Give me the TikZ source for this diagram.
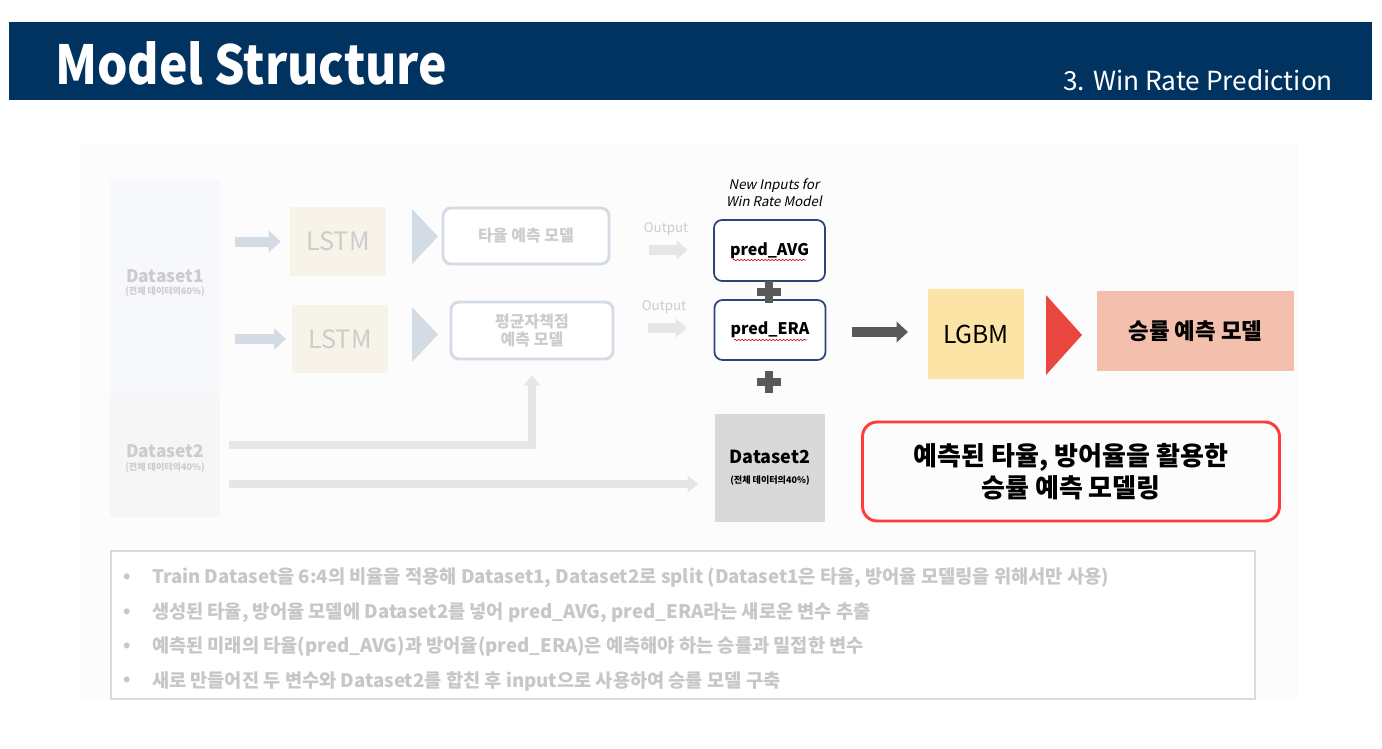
\documentclass[tikz,border=0pt]{standalone}
\usepackage{graphicx}
\usepackage{fontspec}
\setmainfont{Noto Sans CJK KR}
\newfontfamily\slfont{Noto Sans CJK KR}[FakeSlant=0.2]
\usetikzlibrary{arrows.meta,decorations.pathmorphing}
\definecolor{headnavy}{HTML}{003360}
\definecolor{fadetext}{HTML}{CCCCCC}
\definecolor{fadeblue}{HTML}{D3DBE5}
\definecolor{fadegray}{HTML}{E6E6E6}
\definecolor{lstmfill}{HTML}{F7F3E8}
\definecolor{d1fill}{HTML}{F7F8FC}
\definecolor{d2fill}{HTML}{F6F6F6}
\definecolor{boxnavy}{HTML}{2A4674}
\definecolor{plusgray}{HTML}{595959}
\definecolor{lgbmfill}{HTML}{FCE4A6}
\definecolor{winfill}{HTML}{F4C0AE}
\definecolor{redtri}{HTML}{E8463E}
\definecolor{redline}{HTML}{FF3B3B}
\newcommand\fsz[2]{\fontsize{#1}{#2}\selectfont}
\begin{document}
\begin{tikzpicture}[x=0.75pt,y=-0.75pt,
  every node/.style={inner sep=0pt,outer sep=0pt,align=center},
  sz/.style 2 args={minimum width=#1*0.75pt,minimum height=#2*0.75pt},
  fadebox/.style={draw=fadeblue,line width=2.2pt,rounded corners=6pt,fill=white,text=fadetext},
  newbox/.style={draw=boxnavy,line width=1.3pt,rounded corners=6pt,fill=white},
  lightarrow/.style={draw=fadeblue,line width=7.5pt,-{Triangle[length=9pt,width=16pt]}},
  outarrow/.style={draw=fadegray,line width=7pt,-{Triangle[length=8pt,width=14pt]}},
  flowarrow/.style={draw=fadegray,line width=6pt,-{Triangle[length=8pt,width=12pt]}},
  darkarrow/.style={draw=plusgray,line width=7.5pt,-{Triangle[length=8.5pt,width=15pt]}},
  plus/.style={draw=plusgray,line width=6pt},
  spell/.style={draw=red!85!black,line width=0.45pt,decorate,decoration={snake,amplitude=0.55pt,segment length=2.6pt}}
]
\useasboundingbox (0,0) rectangle (1382,749);
\fill[white] (0,0) rectangle (1382,749);

% header bar
\fill[headnavy] (9,22) rectangle (1372,100);
\node[anchor=west,text=white,font=\bfseries\fsz{36}{42}] (title) at (55,63) {\scalebox{1}[1.12]{Model Structure}};
\node[anchor=east,text=white,font=\fsz{19.7}{23}] (sub) at (1333,80) {3. Win Rate Prediction};

% faint slide area
\fill[black!1] (80,143) rectangle (1298,700);

% dataset columns
\node[sz={110}{213},fill=d1fill] (d1) at (165,286.5) {};
\node[sz={110}{124},fill=d2fill] (d2) at (165,455) {};
\node[text=fadetext,font=\bfseries\fsz{13}{15}] at (165,276) {Dataset1};
\node[text=fadetext,font=\bfseries\fsz{6.8}{8}] at (165,292) {(전체 데이터의60\%)};
\node[text=fadetext,font=\bfseries\fsz{13}{15}] at (165,451) {Dataset2};
\node[text=fadetext,font=\bfseries\fsz{6.8}{8}] at (165,468) {(전체 데이터의40\%)};

% LSTM stages
\node[sz={96}{69},fill=lstmfill,text=fadetext,font=\fsz{19}{22}] (l1) at (338,241.5) {LSTM};
\node[sz={96}{68},fill=lstmfill,text=fadetext,font=\fsz{19}{22}] (l2) at (340,339) {LSTM};
\draw[lightarrow,shorten <=11pt,shorten >=7pt] (d1.east |- l1.west) -- (l1.west);
\draw[lightarrow,shorten <=11pt,shorten >=4.5pt] (d1.east |- l2.west) -- (l2.west);
\fill[fadeblue] (412,209) -- (438,236.5) -- (412,264) -- cycle;
\fill[fadeblue] (412,307) -- (438,334.5) -- (412,362) -- cycle;

% first-stage models
\node[fadebox,sz={166}{56},font=\bfseries\fsz{12}{14}] (m1) at (526,236) {타율 예측 모델};
\node[fadebox,sz={162}{57},font=\bfseries\fsz{12}{13.5}] (m2) at (532,330.5) {평균자책점\\예측 모델};

% outputs
\node[text=fadetext,font=\fsz{10}{12}] (o1) at (666,229) {Output};
\node[text=fadetext,font=\fsz{10}{12}] (o2) at (664,307) {Output};

% new inputs
\node[font=\slfont\fsz{10}{12.5}] (lab) at (774,193) {New Inputs for\\Win Rate Model};
\node[newbox,sz={111}{61},font=\bfseries\fsz{12}{14}] (pavg) at (769.5,250.5) {pred\_AVG};
\node[newbox,sz={111}{60},font=\bfseries\fsz{12}{14}] (pera) at (770,330) {pred\_ERA};
\node[sz={110}{108},fill=black!15,font=\bfseries\fsz{13.5}{16}] (ds2) at (770,468) {Dataset2\\[-1pt]{\fsz{6.8}{8}(전체 데이터의40\%)}};
\draw[spell] (733,260) -- (806,260);
\draw[spell] (734,340) -- (807,340);

\draw[outarrow,shorten <=30pt,shorten >=20pt] (m1.east |- 0,250) -- (pavg.west |- 0,250);
\draw[outarrow,shorten <=26pt,shorten >=21pt] (m2.east |- 0,328) -- (pera.west |- 0,328);

% plus signs
\draw[plus] (757,292) -- (781,292);
\draw[plus] (769,281) -- (769,303);
\draw[plus] (757,382) -- (781,382);
\draw[plus] (769,371) -- (769,393);

% dataset2 routes
\coordinate (r1) at (229,445);
\coordinate (r2) at (229,484);
\draw[flowarrow,shorten >=12pt] (r1) -| (m2.south);
\draw[flowarrow,shorten >=12.5pt] (r2) -- (ds2.west |- r2);

% win rate model
\node[sz={96}{90},fill=lgbmfill,font=\fsz{18.5}{22}] (lgbm) at (976,334) {LGBM};
\draw[darkarrow,shorten <=19.5pt,shorten >=15pt] (pera.east |- 0,332) -- (lgbm.west |- 0,332);
\fill[redtri] (1046,295) -- (1082,335) -- (1046,375) -- cycle;
\node[sz={197}{80},fill=winfill,font=\bfseries\fsz{16.8}{19}] (win) at (1195.5,331) {승률 예측 모델};

\node[draw=redline,line width=2.2pt,rounded corners=11pt,sz={417}{99},font=\bfseries\fsz{19.5}{24}] (note) at (1071,471.5) {예측된 타율, 방어율을 활용한\\승률 예측 모델링};

% notes
\node[draw=fadeblue,line width=2.2pt,fill=white,sz={1144}{148}] (notes) at (683,625) {};
\begin{scope}[every node/.append style={text=black!22,font=\bfseries\fsz{14}{16},anchor=west}]
\foreach \yy in {578,613,647,681} \node at (123,\yy) {•};
\node (n1) at (152,578) {Train Dataset을 6:4의 비율을 적용해 Dataset1, Dataset2로 split (Dataset1은 타율, 방어율 모델링을 위해서만 사용)};
\node (n2) at (152,613) {생성된 타율, 방어율 모델에 Dataset2를 넣어 pred\_AVG, pred\_ERA라는 새로운 변수 추출};
\node (n3) at (152,647) {예측된 미래의 타율(pred\_AVG)과 방어율(pred\_ERA)은 예측해야 하는 승률과 밀접한 변수};
\node (n4) at (152,681) {새로 만들어진 두 변수와 Dataset2를 합친 후 input으로 사용하여 승률 모델 구축};
\end{scope}
\end{tikzpicture}
\end{document}
